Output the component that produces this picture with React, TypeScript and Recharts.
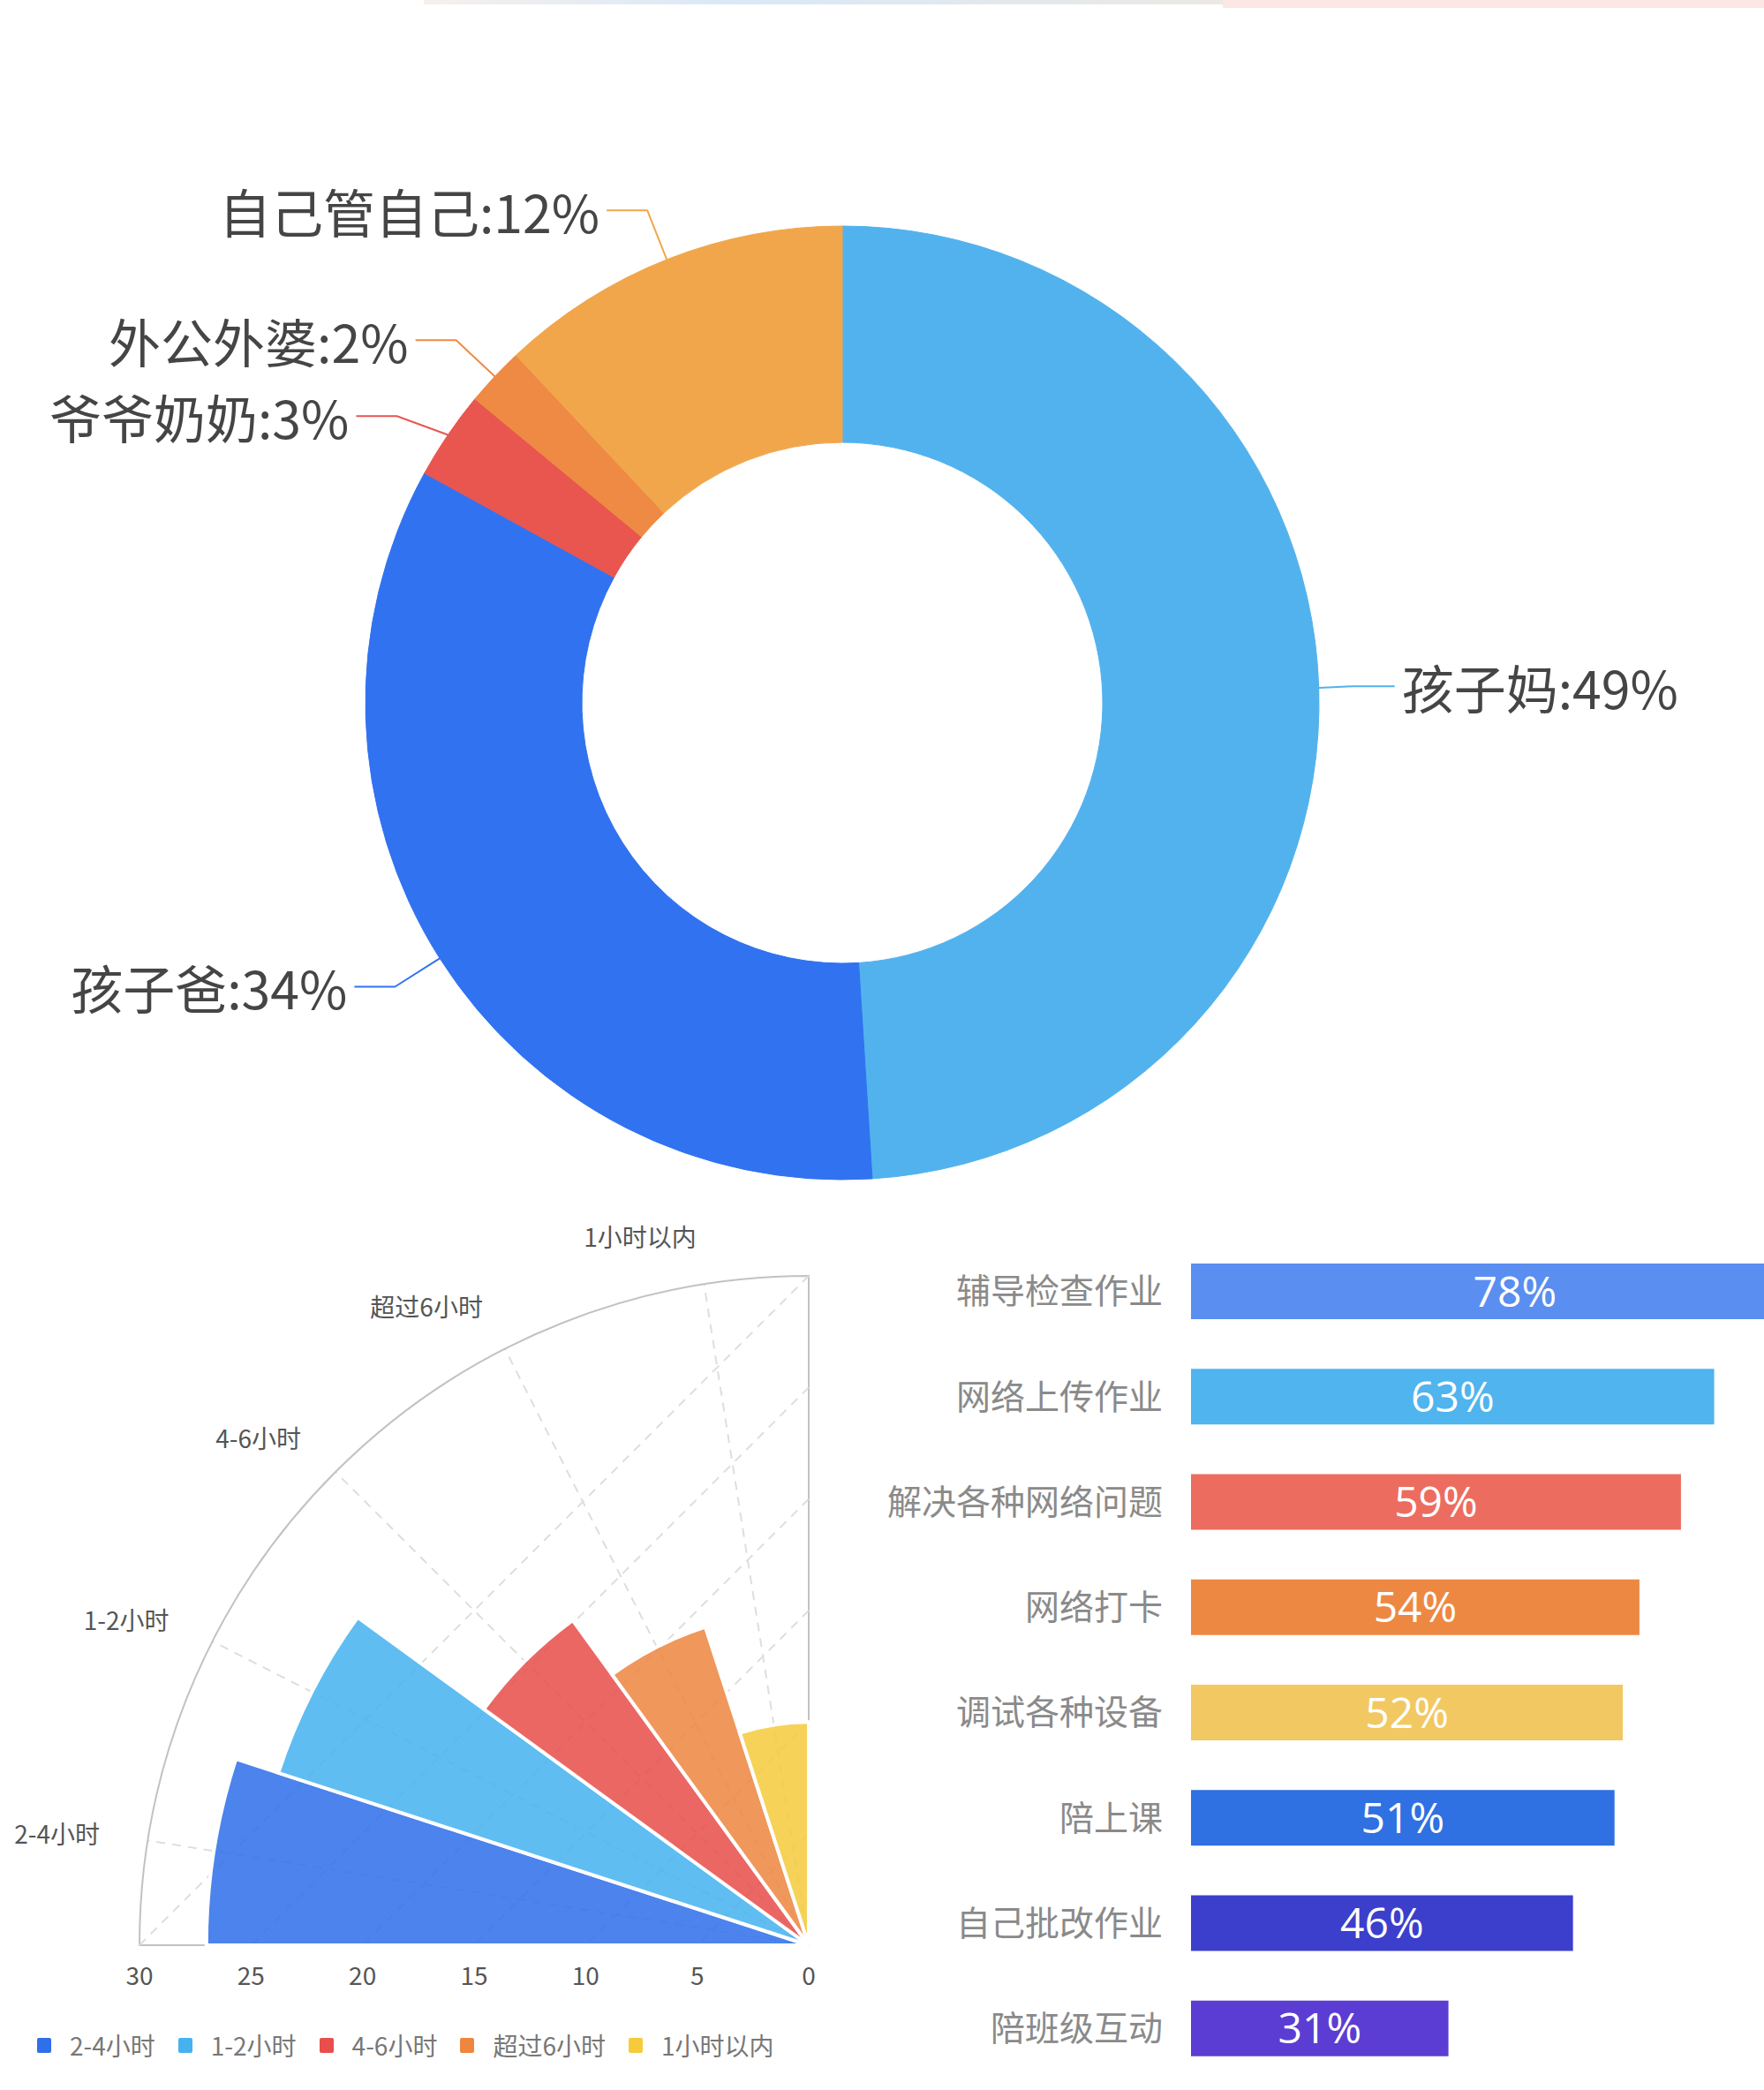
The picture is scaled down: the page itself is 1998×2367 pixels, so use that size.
import React from 'react';
import {
  PieChart, Pie, Cell, RadialBarChart, RadialBar, PolarAngleAxis, PolarRadiusAxis,
  PolarGrid, Sector, Legend, BarChart, Bar, XAxis, YAxis, LabelList,
} from 'recharts';

const FONT = "'Noto Sans CJK SC', 'Noto Sans', sans-serif";

// ---------- Donut: 谁来辅导 ----------
const PIE_NAMES = ['孩子妈', '孩子爸', '爷爷奶奶', '外公外婆', '自己管自己'];
const PIE_VALUES = [49, 34, 3, 2, 12];
const PIE_COLORS = ['#52B2EE', '#3172F0', '#E9564F', '#EE8A44', '#F1A64B'];

// ---------- Polar bars: 时长 ----------
const HOUR_CATS = ['2-4小时', '1-2小时', '4-6小时', '超过6小时', '1小时以内'];
const HOUR_VALUES = [27, 25, 18, 15, 10];
const HOUR_COLORS = ['#2F6FEA', '#45B2F0', '#E84E4B', '#EE8640', '#F5CB3C'];
const RADIUS_TICKS = [0, 5, 10, 15, 20, 25, 30];
const RADIUS_MAX = 30;

// ---------- Horizontal bars: 任务 ----------
const TASK_CATS = ['辅导检查作业', '网络上传作业', '解决各种网络问题', '网络打卡', '调试各种设备', '陪上课', '自己批改作业', '陪班级互动'];
const TASK_VALUES = [78, 63, 59, 54, 52, 51, 46, 31];
const TASK_COLORS = ['#5A8EF0', '#50B4EF', '#EC6D5F', '#ED8843', '#F2C862', '#2F70E2', '#3B3FCC', '#5B3DD3'];

const pieData = PIE_NAMES.map((name, i) => ({ name, value: PIE_VALUES[i] }));
const hourData = HOUR_CATS.map((name, i) => ({ name, value: HOUR_VALUES[i] }));
const taskData = TASK_CATS.map((name, i) => ({ name, value: TASK_VALUES[i] }));

// donut geometry
const PIE_CX = 954;
const PIE_CY = 796;
const PIE_IR = 295;
const PIE_OR = 540;
const L1 = 60;
const L2 = 46;
const GAP = 8;
const LABEL_FONT = 59;
const MIN_DY = 86;

function computePieLabelLayout() {
  const total = PIE_VALUES.reduce((a, b) => a + b, 0);
  let acc = 0;
  const items = PIE_VALUES.map((v, i) => {
    const mid = 90 - ((acc + v / 2) / total) * 360;
    acc += v;
    const rad = (mid * Math.PI) / 180;
    const cos = Math.cos(rad);
    const sin = Math.sin(rad);
    return { i, right: cos >= 0, y: PIE_CY - (PIE_OR + L1) * sin, x: 0 };
  });
  [true, false].forEach((side) => {
    const group = items.filter((it) => it.right === side).sort((a, b) => a.y - b.y);
    for (let k = 1; k < group.length; k++) {
      if (group[k].y - group[k - 1].y < MIN_DY) group[k].y = group[k - 1].y + MIN_DY;
    }
  });
  const R = PIE_OR + L1;
  items.forEach((it) => {
    const dy = it.y - PIE_CY;
    const dx = Math.sqrt(Math.max(R * R - dy * dy, 0));
    it.x = PIE_CX + (it.right ? dx - 20 : -dx);
  });
  return items;
}
const PIE_LABELS = computePieLabelLayout();

const renderPieLabel = (props: any) => {
  const { cx, cy, midAngle, outerRadius, index, name, value } = props;
  const rad = (midAngle * Math.PI) / 180;
  const x0 = cx + outerRadius * Math.cos(rad);
  const y0 = cy - outerRadius * Math.sin(rad);
  const lay = PIE_LABELS[index];
  const sign = lay.right ? 1 : -1;
  const x2 = lay.x + sign * L2;
  const color = PIE_COLORS[index];
  return (
    <g key={`pl-${index}`}>
      <polyline
        points={`${x0},${y0} ${lay.x},${lay.y} ${x2},${lay.y}`}
        fill="none"
        stroke={color}
        strokeWidth={2}
        strokeLinejoin="round"
      />
      <text
        x={x2 + sign * GAP}
        y={lay.y}
        textAnchor={lay.right ? 'start' : 'end'}
        dominantBaseline="central"
        fontSize={LABEL_FONT}
        fill="#454545"
        fontFamily={FONT}
      >
        {`${name}:${value}%`}
      </text>
    </g>
  );
};

// polar geometry
const P_CX = 916;
const P_CY = 863;
const P_R = 758;
const ANGLE_LABEL_R = 813;
const P_START = 180;
const P_END = 90;
const BAND = (P_START - P_END) / HOUR_CATS.length;
// the category angle axis in centric layout reports band edges; shift by one band so bars sit in [90°,180°]
const CHART_START = P_START - BAND;
const CHART_END = P_END - BAND;

const AngleTick = (props: any) => {
  const { x, y, payload } = props;
  const base = Math.atan2(-(y - P_CY), x - P_CX);
  const a = base + ((BAND / 2) * Math.PI) / 180;
  return (
    <text
      x={P_CX + Math.cos(a) * ANGLE_LABEL_R}
      y={P_CY - Math.sin(a) * ANGLE_LABEL_R}
      textAnchor="end"
      dominantBaseline="central"
      fontSize={28}
      fill="#555"
      fontFamily={FONT}
    >
      {payload.value}
    </text>
  );
};

const RadiusTick = (props: any) => {
  const { x, y, payload } = props;
  return (
    <text x={x} y={y + 33} textAnchor="middle" dominantBaseline="central" fontSize={28} fill="#555" fontFamily={FONT}>
      {payload.value}
    </text>
  );
};

const ChordGrid = () => (
  <g className="chord-grid">
    {RADIUS_TICKS.filter((t) => t > 0).map((t) => {
      const r = (t / RADIUS_MAX) * P_R;
      return (
        <line
          key={t}
          x1={P_CX}
          y1={P_CY - r}
          x2={P_CX - r}
          y2={P_CY}
          stroke="#dedede"
          strokeWidth={2}
          strokeDasharray="10 8"
        />
      );
    })}
  </g>
);

const HourLegend = () => (
  <div style={{ display: 'flex', alignItems: 'center', fontFamily: FONT, fontSize: 28, color: '#777' }}>
    {HOUR_CATS.map((c, i) => (
      <div key={c} style={{ display: 'flex', alignItems: 'center', marginRight: 26 }}>
        <span style={{ display: 'inline-block', width: 16, height: 17, borderRadius: 2, background: HOUR_COLORS[i], marginRight: 21 }} />
        <span>{c}</span>
      </div>
    ))}
  </div>
);

const gridAngles = HOUR_CATS.map((_, i) => P_START - (i + 0.5) * BAND);

export default function App() {
  return (
    <div style={{ position: 'absolute', left: 0, top: 0, width: 1998, height: 2367, overflow: 'hidden', background: '#fff' }}>
      <div style={{ position: 'absolute', left: 480, top: 0, width: 905, height: 5, background: 'linear-gradient(90deg, #f6f0ec, #d8e8f7 40%, #ece9e4)' }} />
      <div style={{ position: 'absolute', left: 1385, top: 0, width: 613, height: 9, background: '#fbe8e4' }} />

      <div style={{ position: 'absolute', left: 0, top: 0 }}>
        <PieChart width={1998} height={1340} margin={{ top: 0, right: 0, bottom: 0, left: 0 }}>
          <Pie
            data={pieData}
            dataKey="value"
            nameKey="name"
            cx={PIE_CX}
            cy={PIE_CY}
            innerRadius={PIE_IR}
            outerRadius={PIE_OR}
            startAngle={90}
            endAngle={-270}
            label={renderPieLabel}
            labelLine={false}
            isAnimationActive={false}
          >
            {pieData.map((d, i) => (
              <Cell key={d.name} fill={PIE_COLORS[i]} stroke={PIE_COLORS[i]} strokeWidth={1} />
            ))}
          </Pie>
        </PieChart>
      </div>

      <div style={{ position: 'absolute', left: 0, top: 1340 }}>
        <RadialBarChart
          width={1000}
          height={1027}
          data={hourData}
          layout="centric"
          cx={P_CX}
          cy={P_CY}
          innerRadius={0}
          outerRadius={P_R}
          startAngle={CHART_START}
          endAngle={CHART_END}
          barCategoryGap={0}
          barGap={0}
          margin={{ top: 0, right: 0, bottom: 0, left: 0 }}
        >
          <Sector
            cx={P_CX}
            cy={P_CY}
            innerRadius={0}
            outerRadius={P_R}
            startAngle={P_START}
            endAngle={P_END}
            fill="none"
            stroke="#c2c2c2"
            strokeWidth={2}
          />
          <ChordGrid />
          <PolarGrid polarAngles={gridAngles} polarRadius={[]} stroke="#dedede" strokeDasharray="10 8" strokeWidth={2} />
          <PolarAngleAxis type="category" dataKey="name" axisLine={false} tickLine={false} tick={<AngleTick />} />
          <PolarRadiusAxis type="number" angle={P_START} domain={[0, RADIUS_MAX]} ticks={RADIUS_TICKS as any} tickCount={7} axisLine={false} tick={<RadiusTick />} />
          <RadialBar dataKey="value" stroke="#fff" strokeWidth={4} isAnimationActive={false}>
            {hourData.map((d, i) => (
              <Cell key={d.name} fill={HOUR_COLORS[i]} fillOpacity={0.86} />
            ))}
          </RadialBar>
          <Legend content={<HourLegend />} wrapperStyle={{ position: 'absolute', left: 42, top: 956, width: 950 }} />
        </RadialBarChart>
      </div>

      <div style={{ position: 'absolute', left: 1000, top: 1400 }}>
        <BarChart
          width={998}
          height={960}
          data={taskData}
          layout="vertical"
          margin={{ top: 3, right: 0, bottom: 3, left: 0 }}
          barSize={63}
        >
          <XAxis type="number" hide domain={[0, 69]} allowDataOverflow />
          <YAxis
            type="category"
            dataKey="name"
            width={349}
            axisLine={false}
            tickLine={false}
            tickMargin={26}
            tick={{ fontSize: 39, fill: '#8a8a8a', fontFamily: FONT }}
          />
          <Bar dataKey="value" isAnimationActive={false}>
            {taskData.map((d, i) => (
              <Cell key={d.name} fill={TASK_COLORS[i]} />
            ))}
            <LabelList
              dataKey="value"
              position="center"
              formatter={(v: any) => `${v}%`}
              fill="#fff"
              fontSize={48}
              fontFamily="'Open Sans', sans-serif"
            />
          </Bar>
        </BarChart>
      </div>
    </div>
  );
}
